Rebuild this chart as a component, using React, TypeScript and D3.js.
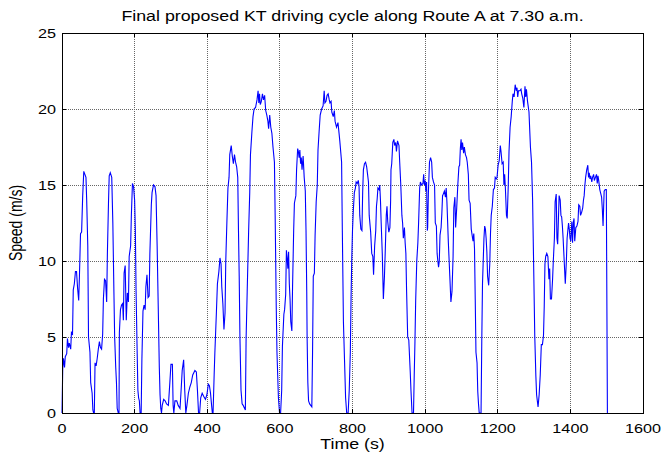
import React from "react";
import * as d3 from "d3";

const titleText = "Final proposed KT driving cycle along Route A at 7.30 a.m.";
const xLabel = "Time (s)";
const yLabel = "Speed (m/s)";
const xTicks = [0, 200, 400, 600, 800, 1000, 1200, 1400, 1600];
const yTicks = [0, 5, 10, 15, 20, 25];

// [time (s), speed (m/s)]
const speedTrace: [number, number][] = [
  [0,0],[2,2.9],[4,3.6],[7,3.0],[9,3.7],[13,3.9],[15,4.9],[18,4.3],[20,4.6],[24,4.2],[26,5.3],[29,5.2],
  [31,8.1],[34,8.5],[37,9.3],[40,9.3],[43,8.2],[46,7.4],[48,9.0],[51,11.8],[54,11.9],[57,14.3],[60,15.9],
  [63,15.7],[66,15.5],[68,14.0],[71,11.0],[73,5.0],[77,4.0],[79,2.0],[83,1.3],[85,0.2],[87,0],[89,0],
  [91,3.3],[94,3.1],[97,3.6],[100,4.2],[103,4.7],[106,4.3],[109,4.2],[112,5.2],[114,7.5],[117,8.8],
  [120,8.7],[123,7.3],[125,10.5],[128,13.8],[130,15.6],[133,15.8],[137,15.5],[140,12.5],[143,7.9],
  [145,5.0],[148,3.0],[150,2.0],[152,0.3],[155,0],[157,0],[158,5.3],[161,6.8],[164,7.1],[167,7.2],
  [169,6.1],[171,9.2],[174,9.7],[177,6.1],[180,7.9],[183,7.3],[185,10.3],[189,11.0],[191,13.0],
  [194,15.1],[197,14.9],[200,14.0],[202,12.0],[204,8.0],[207,4.0],[209,1.5],[211,1.0],[213,0.8],
  [215,0],[218,0],[220,3.5],[223,6.7],[226,7.1],[229,6.8],[231,8.3],[234,9.1],[237,7.6],[240,7.7],
  [242,10.5],[246,13.7],[248,14.5],[252,15.0],[256,14.9],[259,14.3],[262,11.0],[265,7.0],[268,3.0],
  [270,1.2],[272,0.3],[274,0],[276,0.5],[280,0.9],[284,0.8],[288,0.6],[293,0.5],[297,2.0],[300,3.2],
  [304,3.2],[306,0.5],[308,0],[311,0.8],[316,0.8],[320,0.5],[325,0.3],[328,1.5],[331,2.8],[335,3.5],
  [338,1.5],[341,0],[344,0.5],[348,1.3],[352,1.7],[356,2.0],[360,2.5],[366,2.8],[370,2.7],[373,1.5],
  [376,0],[379,0],[382,1.0],[386,1.3],[390,1.1],[395,0.9],[399,1.2],[403,1.9],[406,1.8],[409,1.3],
  [412,0.5],[414,0],[416,0],[419,2.5],[421,4.0],[425,6.5],[428,8.5],[432,9.3],[435,10.2],[438,9.8],
  [440,8.3],[443,7.2],[446,5.5],[449,6.6],[451,10.0],[454,12.5],[457,14.8],[460,15.5],[462,17.0],
  [466,17.6],[469,16.9],[472,16.4],[475,17.0],[478,16.5],[481,16.2],[484,15.5],[486,12.0],[488,9.0],
  [490,5.0],[493,1.5],[496,0.6],[499,0.5],[503,0.3],[505,0.2],[507,4.9],[510,8.0],[514,12.0],
  [517,14.5],[519,17.0],[523,18.5],[526,19.5],[529,20.0],[533,20.1],[537,20.6],[540,21.2],[542,20.4],
  [544,21.0],[546,20.3],[549,20.5],[552,21.0],[555,20.6],[558,20.9],[561,19.9],[564,19.6],[567,19.2],
  [569,18.7],[572,19.6],[575,18.8],[578,18.4],[581,17.5],[585,16.5],[587,13.0],[590,7.0],[592,4.0],
  [594,2.5],[596,1.0],[599,0],[602,0],[605,1.5],[607,4.4],[611,6.5],[613,6.8],[616,7.8],[618,10.7],
  [620,10.2],[622,9.5],[624,10.6],[626,8.5],[628,7.5],[630,6.0],[633,5.4],[635,8.4],[637,10.8],
  [638,12.0],[640,13.8],[644,14.3],[646,16.0],[649,17.4],[651,17.2],[653,16.8],[655,17.3],[657,16.4],
  [659,16.8],[661,16.0],[664,16.9],[667,15.5],[670,14.6],[672,12.0],[674,8.0],[675,5.0],[677,2.0],
  [679,0.8],[682,0.6],[685,0.5],[688,0.4],[690,4.0],[692,9.0],[695,9.2],[697,11.7],[700,13.9],
  [703,15.0],[705,17.3],[708,18.5],[711,19.6],[715,20.0],[719,20.2],[722,21.2],[724,20.4],[727,20.5],
  [730,20.9],[733,21.0],[736,20.6],[738,20.4],[741,20.5],[743,19.8],[747,19.5],[750,19.9],[752,19.2],
  [756,18.8],[760,19.1],[763,18.4],[765,17.9],[770,16.5],[772,12.0],[775,6.0],[778,3.5],[781,1.0],
  [784,0],[788,0],[791,1.5],[794,4.0],[796,7.5],[798,10.2],[800,12.0],[802,13.2],[805,14.5],[808,14.8],
  [810,15.2],[813,15.1],[816,15.3],[818,14.9],[820,13.0],[823,12.1],[826,12.0],[828,14.5],[830,16.0],
  [833,16.4],[836,16.5],[839,16.2],[841,15.8],[844,15.2],[846,13.0],[850,11.9],[853,10.5],[856,10.3],
  [858,9.1],[861,11.0],[864,12.0],[866,13.6],[868,14.1],[870,14.8],[873,14.7],[875,15.0],[877,14.0],
  [879,12.5],[882,10.5],[885,7.5],[888,9.0],[890,10.5],[893,13.0],[895,13.6],[897,12.6],[900,11.9],
  [903,12.2],[905,14.0],[906,16.0],[908,16.4],[911,17.8],[914,18.0],[916,17.6],[919,17.8],[921,17.2],
  [924,17.9],[928,17.6],[930,16.5],[933,15.0],[936,13.0],[938,12.5],[940,11.5],[943,12.2],[945,11.2],
  [947,10.5],[949,8.0],[952,5.0],[955,4.8],[959,2.7],[961,1.5],[964,0],[968,0],[970,2.5],[972,4.7],
  [974,7.4],[977,10.0],[980,11.2],[982,12.5],[985,14.8],[987,15.2],[990,15.0],[994,15.1],[996,15.7],
  [998,15.0],[1000,15.3],[1002,14.6],[1004,15.2],[1006,12.0],[1007,12.2],[1009,14.5],[1012,16.5],
  [1015,16.8],[1018,16.5],[1020,15.5],[1023,15.2],[1026,15.0],[1028,12.5],[1031,12.3],[1033,10.5],
  [1035,10.0],[1037,9.6],[1039,10.0],[1041,11.7],[1044,12.2],[1046,13.1],[1048,14.3],[1050,14.4],
  [1053,14.6],[1056,14.2],[1058,14.8],[1060,13.9],[1064,11.2],[1068,9.0],[1071,7.3],[1074,8.0],
  [1077,10.3],[1079,13.5],[1082,14.2],[1084,12.2],[1087,13.5],[1090,15.0],[1093,16.2],[1095,16.3],
  [1097,17.4],[1099,18.0],[1101,17.3],[1103,17.8],[1106,17.1],[1108,17.5],[1111,17.0],[1114,16.8],
  [1116,16.5],[1119,15.7],[1121,14.0],[1124,13.8],[1127,12.1],[1130,11.6],[1132,11.3],[1134,11.8],
  [1136,10.8],[1138,7.5],[1140,4.0],[1143,3.3],[1145,1.4],[1147,0.6],[1149,0],[1154,0],[1156,4.7],
  [1158,8.5],[1160,10.0],[1162,11.5],[1164,12.3],[1166,12.1],[1168,11.5],[1170,10.6],[1172,9.0],
  [1175,8.4],[1178,9.8],[1180,11.8],[1182,13.0],[1185,13.6],[1188,14.7],[1191,14.8],[1193,15.5],
  [1196,15.4],[1198,15.5],[1201,16.3],[1204,16.6],[1207,17.6],[1209,17.2],[1212,16.4],[1215,16.5],
  [1217,15.0],[1219,15.7],[1221,14.8],[1224,13.0],[1226,12.8],[1229,15.0],[1231,17.2],[1234,18.8],
  [1237,19.5],[1240,20.5],[1242,21.0],[1245,20.8],[1248,21.6],[1251,21.2],[1253,21.4],[1255,20.8],
  [1257,21.2],[1261,21.2],[1264,21.3],[1266,21.0],[1269,20.7],[1272,20.1],[1275,21.5],[1277,20.8],
  [1279,21.3],[1282,20.5],[1286,19.8],[1290,17.5],[1293,16.5],[1296,14.0],[1299,9.5],[1302,5.0],
  [1305,2.4],[1307,1.2],[1309,0.8],[1311,0.4],[1314,1.2],[1317,2.5],[1320,4.5],[1323,4.5],[1326,5.1],
  [1328,7.0],[1330,9.8],[1332,10.3],[1335,10.5],[1338,10.3],[1341,8.8],[1343,9.5],[1345,7.5],
  [1348,7.5],[1351,8.8],[1353,10.0],[1356,11.5],[1358,13.9],[1361,14.4],[1363,11.5],[1365,11.1],
  [1369,14.3],[1372,14.0],[1374,13.0],[1376,12.9],[1378,12.3],[1380,11.5],[1383,10.0],[1386,8.5],
  [1389,10.0],[1391,11.5],[1393,12.0],[1395,12.5],[1397,12.1],[1399,11.5],[1401,11.3],[1404,12.6],
  [1406,11.2],[1408,12.5],[1410,12.8],[1412,11.3],[1415,12.2],[1418,12.3],[1421,12.6],[1423,13.7],
  [1426,13.6],[1428,13.0],[1431,13.2],[1434,13.5],[1436,14.0],[1438,14.3],[1440,15.0],[1442,15.5],
  [1445,16.0],[1448,16.3],[1450,15.5],[1452,15.8],[1454,15.4],[1456,15.6],[1459,15.2],[1461,15.5],
  [1464,15.7],[1466,15.3],[1469,15.5],[1472,15.7],[1474,15.1],[1476,15.6],[1478,15.3],[1481,14.7],
  [1483,14.5],[1486,14.2],[1488,13.4],[1490,12.3],[1493,14.6],[1496,14.7],[1499,14.7],[1502,0],
];

const W = 661;
const H = 457;
const M = { left: 62, right: 643, top: 33, bottom: 413 };
const SX = 1.27; // horizontal stretch of the reference text
const SX_TICK = 1.2;

function SText(props: {
  x: number;
  y: number;
  anchor: string;
  size: number;
  sx?: number;
  children: React.ReactNode;
}) {
  const s = props.sx ?? SX;
  return (
    <text
      transform={`translate(${props.x},${props.y}) scale(${s},1)`}
      textAnchor={props.anchor}
      fontSize={props.size}
      fill="#000"
    >
      {props.children}
    </text>
  );
}

export default function App() {
  const x = d3.scaleLinear().domain([0, 1600]).range([M.left, M.right]);
  const y = d3.scaleLinear().domain([0, 25]).range([M.bottom, M.top]);
  const line = d3
    .line<[number, number]>()
    .x((d) => x(d[0]))
    .y((d) => y(d[1]));
  const font = "Arial, 'Liberation Sans', Helvetica, sans-serif";
  const tk = 4;
  return (
    <svg
      width={W}
      height={H}
      style={{ position: "absolute", left: 0, top: 0, background: "#fff" }}
      fontFamily={font}
    >
      <rect x={0} y={0} width={W} height={H} fill="#fff" />
      {xTicks.slice(1, -1).map((t) => (
        <line
          key={"gx" + t}
          x1={x(t)}
          x2={x(t)}
          y1={M.top}
          y2={M.bottom}
          stroke="#666"
          strokeWidth={1}
          strokeDasharray="1,1"
          shapeRendering="crispEdges"
        />
      ))}
      {yTicks.slice(1, -1).map((t) => (
        <line
          key={"gy" + t}
          x1={M.left}
          x2={M.right}
          y1={y(t)}
          y2={y(t)}
          stroke="#666"
          strokeWidth={1}
          strokeDasharray="1,1"
          shapeRendering="crispEdges"
        />
      ))}
      <path d={line(speedTrace) ?? ""} fill="none" stroke="#0000ff" strokeWidth={1.1} />
      {xTicks.map((t) => (
        <g key={"tx" + t} stroke="#000" shapeRendering="crispEdges">
          <line x1={x(t)} x2={x(t)} y1={M.bottom} y2={M.bottom - tk} />
          <line x1={x(t)} x2={x(t)} y1={M.top} y2={M.top + tk} />
        </g>
      ))}
      {yTicks.map((t) => (
        <g key={"ty" + t} stroke="#000" shapeRendering="crispEdges">
          <line x1={M.left} x2={M.left + tk} y1={y(t)} y2={y(t)} />
          <line x1={M.right} x2={M.right - tk} y1={y(t)} y2={y(t)} />
        </g>
      ))}
      <rect
        x={M.left}
        y={M.top}
        width={M.right - M.left}
        height={M.bottom - M.top}
        fill="none"
        stroke="#000"
        strokeWidth={1}
        shapeRendering="crispEdges"
      />
      {xTicks.map((t) => (
        <SText key={"lx" + t} x={x(t)} y={M.bottom + 20} anchor="middle" size={13.5} sx={SX_TICK}>
          {t}
        </SText>
      ))}
      {yTicks.map((t) => (
        <SText key={"ly" + t} x={M.left - 6} y={y(t) + 5} anchor="end" size={13.5} sx={SX_TICK}>
          {t}
        </SText>
      ))}
      <SText x={(M.left + M.right) / 2} y={449} anchor="middle" size={14}>
        {xLabel}
      </SText>
      <text
        transform={`translate(22, ${(M.top + M.bottom) / 2}) rotate(-90) scale(1,${SX})`}
        textAnchor="middle"
        fontSize={14}
        fill="#000"
      >
        {yLabel}
      </text>
      <SText x={(M.left + M.right) / 2} y={21} anchor="middle" size={14}>
        {titleText}
      </SText>
    </svg>
  );
}
